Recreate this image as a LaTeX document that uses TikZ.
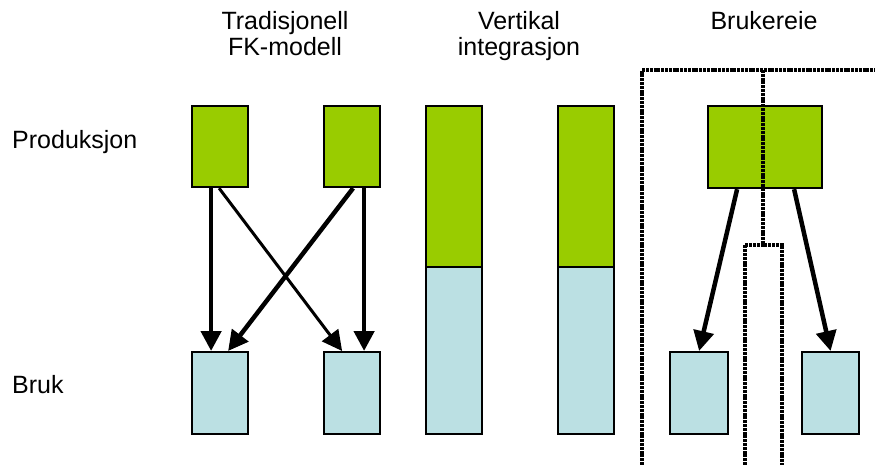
\documentclass[tikz,border=0pt]{standalone}
\usepackage{fontspec}
\setmainfont{Liberation Sans}
\usetikzlibrary{arrows.meta}
\definecolor{prodGreen}{HTML}{99CC00}
\definecolor{brukBlue}{HTML}{BBE0E3}

\begin{document}
\begin{tikzpicture}[x=1pt, y=-1pt,
    every node/.style={font=\fontsize{25}{26}\selectfont, inner sep=0pt},
    blokk/.style={draw=black, line width=2.2pt, anchor=north west, minimum width=56pt},
    prod/.style={blokk, fill=prodGreen},
    bruk/.style={blokk, fill=brukBlue},
    pil/.style={-{Triangle[length=20pt,width=20pt]}, line width=4.5pt},
    tynnpil/.style={pil, line width=3pt},
    grense/.style={line width=3.5pt, dash pattern=on 3pt off 0.8pt}]
    \useasboundingbox (0,0) rectangle (875,465);

    % kolonne- og radtitler
    \node (t1) [anchor=north, align=center] at (285,11.5) {Tradisjonell\\FK-modell};
    \node (t2) [anchor=north, align=center] at (519,11.5) {Vertikal\\integrasjon};
    \node (t3) [anchor=north] at (764,11.5) {Brukereie};
    \node (rp) [anchor=base west] at (12,149) {Produksjon};
    \node (rb) [anchor=base west] at (12,393) {Bruk};

    % tradisjonell modell
    \node (p1) [prod, minimum height=81pt] at (191,105) {};
    \node (p2) [prod, minimum height=81pt] at (323,105) {};
    \node (b1) [bruk, minimum height=82pt] at (191,351) {};
    \node (b2) [bruk, minimum height=82pt] at (323,351) {};

    \draw[pil] ([xshift=-9pt]p1.south) -- ([xshift=-9pt]b1.north);
    \draw[tynnpil] ([xshift=-1pt]p1.south) -- ([xshift=-10pt]b2.north);
    \draw[pil] ([xshift=1pt]p2.south) -- ([xshift=8pt]b1.north);
    \draw[pil] ([xshift=12pt]p2.south) -- ([xshift=12pt]b2.north);

    % vertikal integrasjon
    \node (v1p) [prod, minimum height=161pt] at (425,105) {};
    \node (v1b) [bruk, minimum height=167pt] at (425,266) {};
    \node (v2p) [prod, minimum height=161pt] at (557,105) {};
    \node (v2b) [bruk, minimum height=167pt] at (557,266) {};

    % brukereie
    \node (p3) [prod, minimum width=114pt, minimum height=82pt] at (707,105) {};
    \node (b3) [bruk, minimum width=58pt, minimum height=82pt] at (669,351) {};
    \node (b4) [bruk, minimum width=57pt, minimum height=82pt] at (801,351) {};

    \draw[pil] ([xshift=-28pt]p3.south) -- (b3.north);
    \draw[pil] ([xshift=29pt]p3.south) -- (b4.north);

    % eiergrense over boksene
    \draw[grense] (642,465) -- (642,70) -- (875,70);
    \draw[grense] (763,70) -- (763,245);
    \draw[grense] (745,465) -- (745,245) -- (782,245) -- (782,465);
\end{tikzpicture}
\end{document}
